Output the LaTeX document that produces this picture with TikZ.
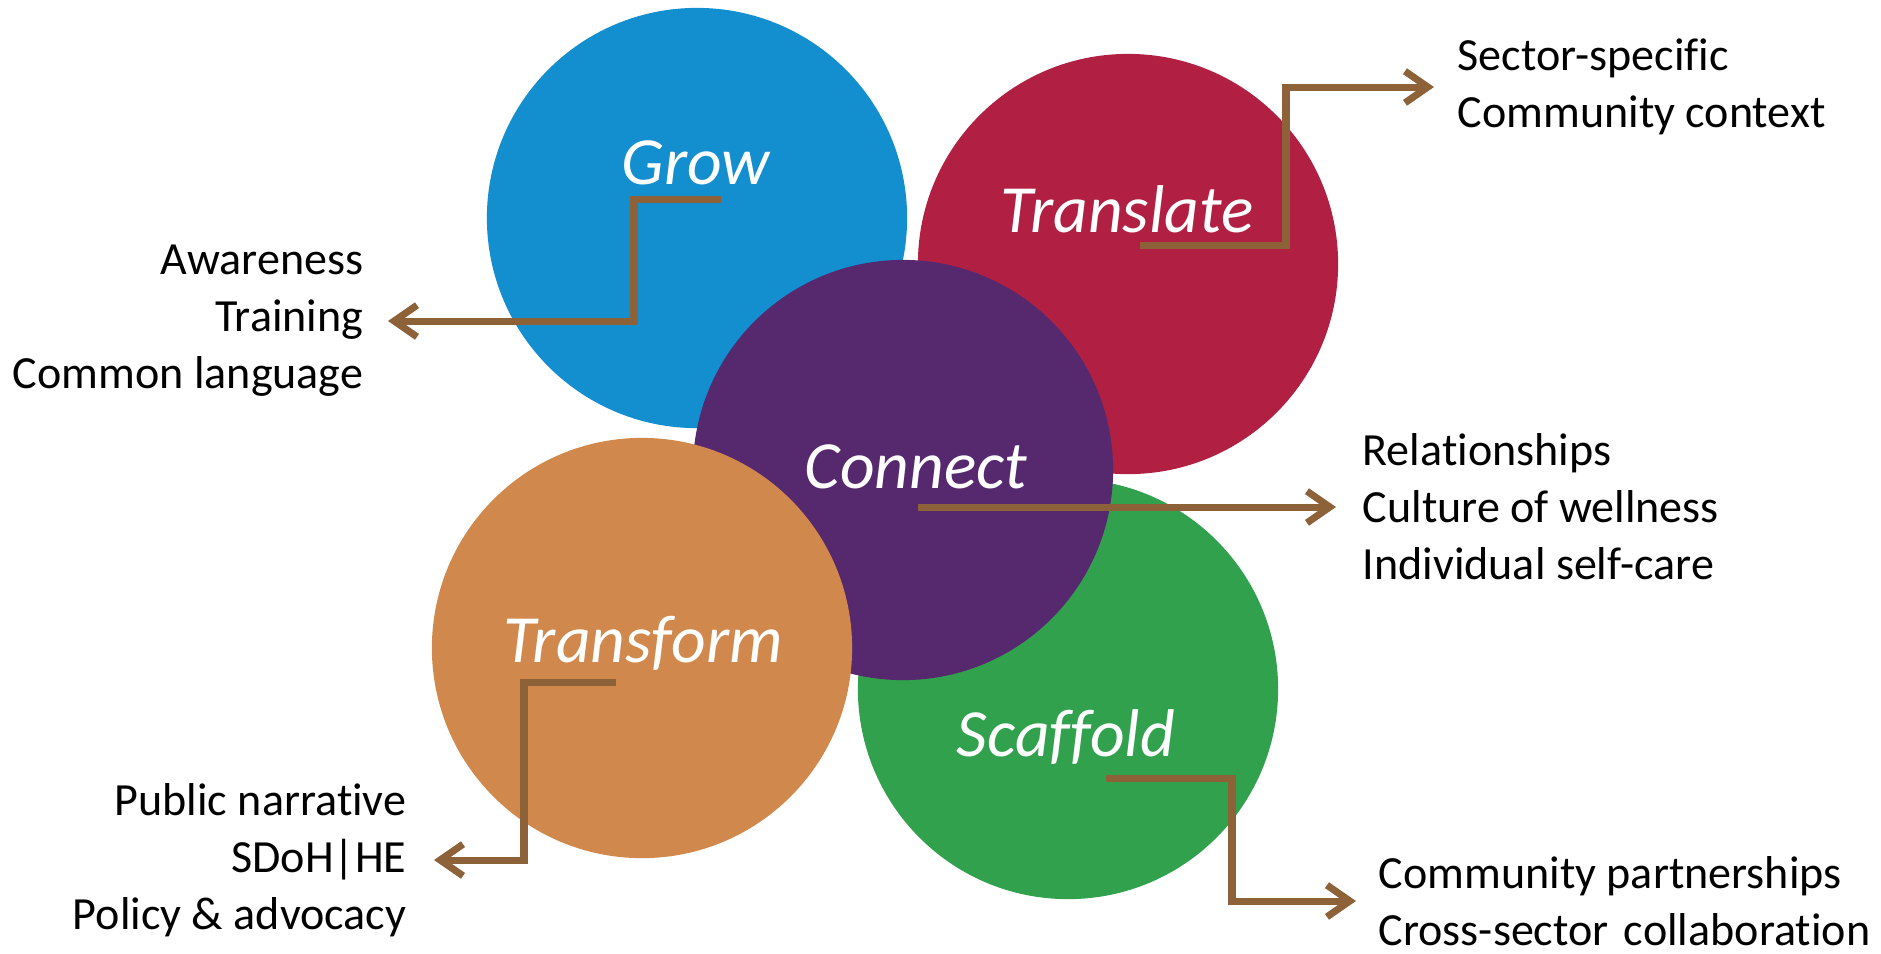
\documentclass[tikz,border=0pt]{standalone}
\usepackage{fontspec}
\setmainfont[Ligatures=NoCommon]{Carlito}
\usetikzlibrary{arrows.meta,calc}
\definecolor{cgrow}{HTML}{138ECF}
\definecolor{ctransl}{HTML}{B12042}
\definecolor{cconn}{HTML}{56296F}
\definecolor{ctransf}{HTML}{D0884C}
\definecolor{cscaf}{HTML}{31A14E}
\definecolor{cbrown}{HTML}{8D6238}
\begin{document}
\begin{tikzpicture}[x=0.01cm,y=-0.01cm,
  disc/.style={circle,inner sep=0pt,minimum size=4.2cm,draw=none},
  title/.style={text=white,font=\fontsize{19.2pt}{23pt}\selectfont\itshape,inner sep=0pt},
  items/.style={text=black,font=\fontsize{13.1pt}{16.2pt}\selectfont,inner sep=0pt},
  arr/.style={draw=cbrown,line width=2pt,-{Straight Barb[length=6.5pt,width=9pt]}}]
\useasboundingbox (0,0) rectangle (1881,953);
% circles
\node[disc,fill=cgrow]   (grow)   at (697,218) {};
\node[disc,fill=ctransl] (transl) at (1128,264) {};
\node[disc,fill=cscaf]   (scaf)   at (1068,689) {};
\node[disc,fill=cconn]   (conn)   at (903,470) {};
\node[disc,fill=ctransf] (transf) at (642,648) {};
% titles
\node[title] (growlbl)   at (696,163) {Grow};
\node[title] (transllbl) at (1127,209) {Translate};
\node[title] (connlbl)   at (916,467) {Connect};
\node[title] (transflbl) at (643,643) {Transform};
\node[title] (scaflbl)   at (1066,737) {Scaffold};
% item texts
\node[items,align=right,anchor=east] (growtxt) at (364,321) {Awareness\\Training\\Common language};
\node[items,align=left,anchor=west] (transltxt) at (1457,87) {Sector-specific\\Community context};
\node[items,align=left,anchor=west] (conntxt) at (1362,507) {Relationships\\Culture of wellness\\Individual self-care};
\node[items,align=right,anchor=east] (transftxt) at (407,860) {Public narrative\\SDoH|HE\\Policy \& advocacy};
\node[items,align=left,anchor=west] (scaftxt) at (1378,901) {Community partnerships\\Cross-sector\hspace{0.33em}collaboration};
% connector coordinates
\coordinate (gs) at (721,199);
\coordinate (gb) at (634,199);
\coordinate (ts) at (1140,245);
\coordinate (tb) at (1286,245);
\coordinate (cs) at (918,507);
\coordinate (fs) at (616,682);
\coordinate (fb) at (524,682);
\coordinate (ss) at (1106,778);
\coordinate (sb) at (1232,778);
% connectors
\draw[arr] (gs) -- (gb) |- ($(growtxt.east)+(24,0)$);
\draw[arr] (ts) -- (tb) |- ($(transltxt.west)+(-23,0)$);
\draw[arr] (cs) -- ($(conntxt.west)+(-26,0)$);
\draw[arr] (fs) -- (fb) |- ($(transftxt.east)+(27,0)$);
\draw[arr] (ss) -- (sb) |- ($(scaftxt.west)+(-22,0)$);
\end{tikzpicture}
\end{document}
